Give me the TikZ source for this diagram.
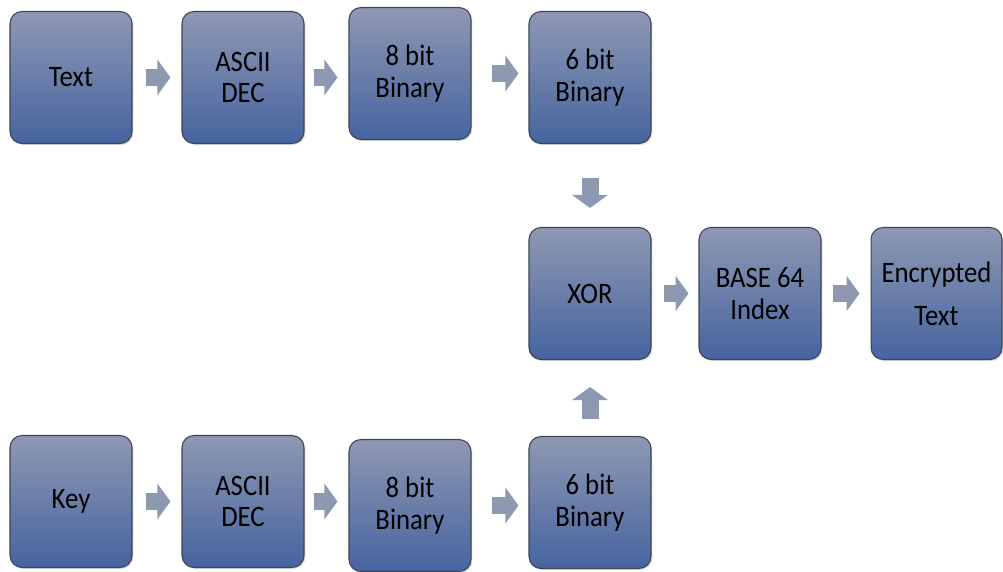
\documentclass[tikz,border=0pt]{standalone}
\usepackage{fontspec}
\setmainfont{Carlito}[FakeStretch=0.9]
\usetikzlibrary{arrows.meta,shadows}

\definecolor{boxtop}{RGB}{142,152,178}
\definecolor{boxbot}{RGB}{70,100,160}
\definecolor{boxline}{RGB}{62,68,82}
\definecolor{arrowgray}{RGB}{141,153,177}

\tikzset{
    stepbox/.style={draw=boxline, line width=0.6pt, rounded corners=0.24cm,
        top color=boxtop, bottom color=boxbot,
        drop shadow={opacity=0.3, shadow xshift=0.8pt, shadow yshift=-0.8pt},
        minimum width=2.44cm, minimum height=2.64cm, align=center,
        font=\fontsize{16.9}{18}\selectfont, inner sep=0pt},
    flow/.style={draw=arrowgray, line width=0.34cm,
        -{Triangle[width=0.7cm, length=0.26cm]}}
}

\begin{document}
\begin{tikzpicture}[x=0.02cm, y=-0.02cm]
    \useasboundingbox (0,0) rectangle (1003,571);

    % plain text path
    \node[stepbox] (text)   at (71,77.5)  {Text};
    \node[stepbox] (ascii1) at (243,77.5) {ASCII\\DEC};
    \node[stepbox] (bit8a)  at (410,73.5) {8 bit\\Binary};
    \node[stepbox] (bit6a)  at (590,77.5) {6 bit\\Binary};

    % combine
    \node[stepbox] (xor)  at (590,293.5) {XOR};
    \node[stepbox] (base) at (760,293.5) {BASE 64\\Index};
    \node[stepbox, minimum width=2.62cm,
        font=\fontsize{16.9}{24.5}\selectfont] (enc) at (936.5,293.5) {Encrypted\\Text};

    % key path
    \node[stepbox] (key)    at (71,501.5)  {Key};
    \node[stepbox] (ascii2) at (243,501.5) {ASCII\\DEC};
    \node[stepbox] (bit8b)  at (410,505.5) {8 bit\\Binary};
    \node[stepbox] (bit6b)  at (590,502.5) {6 bit\\Binary};

    \draw[flow, shorten <=0.26cm, shorten >=0.22cm] (text.east) -- (text.east -| ascii1.west);
    \draw[flow, shorten <=0.18cm, shorten >=0.22cm] (ascii1.east) -- (ascii1.east -| bit8a.west);
    \draw[flow, shorten <=0.40cm, shorten >=0.20cm] (bit8a.east) -- (bit8a.east -| bit6a.west);
    \draw[flow, shorten <=0.26cm, shorten >=0.22cm] (key.east) -- (key.east -| ascii2.west);
    \draw[flow, shorten <=0.18cm, shorten >=0.22cm] (ascii2.east) -- (ascii2.east -| bit8b.west);
    \draw[flow, shorten <=0.40cm, shorten >=0.20cm] (bit8b.east) -- (bit8b.east -| bit6b.west);

    \draw[flow, shorten <=0.68cm, shorten >=0.38cm] (bit6a.south) -- (xor.north);
    \draw[flow, shorten <=0.34cm, shorten >=0.54cm] (bit6b.north) -- (xor.south);

    \draw[flow, shorten <=0.24cm, shorten >=0.20cm] (xor.east) -- (base.west);
    \draw[flow, shorten <=0.22cm, shorten >=0.22cm] (base.east) -- (enc.west);
\end{tikzpicture}
\end{document}
